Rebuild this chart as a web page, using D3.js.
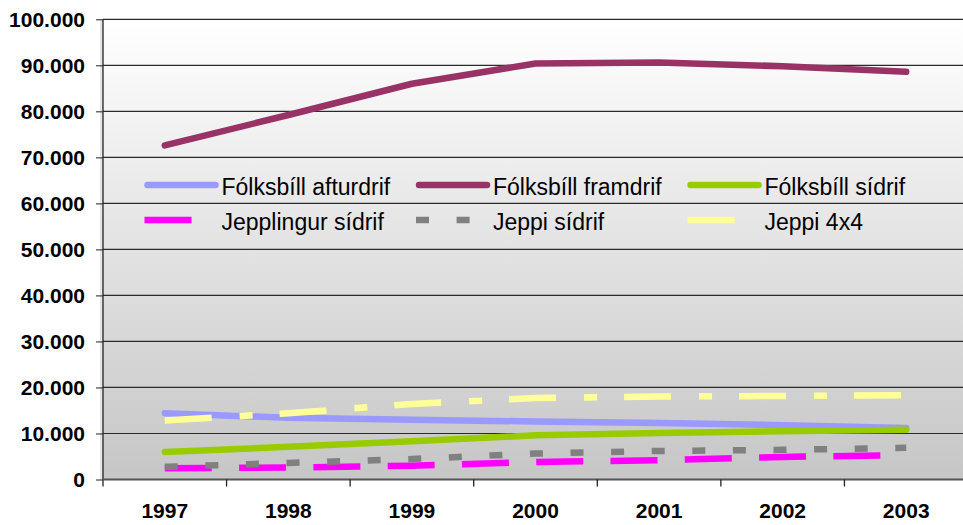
<!DOCTYPE html>
<html>
<head>
<meta charset="utf-8">
<script src="https://cdn.jsdelivr.net/npm/d3@7.9.0/dist/d3.min.js"></script>
<style>
  body { margin: 0; background: #fff; }
  svg { display: block; font-family: "Liberation Sans", Arial, sans-serif; }
</style>
</head>
<body>
<svg id="chart" width="963" height="525"></svg>
<script>
// data
const years = ['1997', '1998', '1999', '2000', '2001', '2002', '2003'];
const yTicks = [0, 10000, 20000, 30000, 40000, 50000, 60000, 70000, 80000, 90000, 100000];

const afturdrif   = [14400, 13400, 13000, 12600, 12300, 11800, 11200];
const framdrif    = [72600, 79200, 86000, 90400, 90600, 89800, 88600];
const sidrif      = [6000, 7100, 8300, 9600, 10100, 10500, 10800];
const jepplingur  = [2450, 2600, 3000, 3800, 4200, 4900, 5300];
const jeppiSidrif = [2750, 3600, 4450, 5640, 6200, 6440, 6880];
const jeppi4x4    = [12800, 14400, 16400, 17700, 18050, 18150, 18300];

const series = [
  { name: 'Fólksbíll afturdrif', values: afturdrif,   color: '#9999ff', dash: null },
  { name: 'Fólksbíll framdrif',  values: framdrif,    color: '#993366', dash: null },
  { name: 'Fólksbíll sídrif',    values: sidrif,      color: '#99cc00', dash: null },
  { name: 'Jepplingur sídrif',   values: jepplingur,  color: '#ff00ff', dash: '47,27.3' },
  { name: 'Jeppi sídrif',        values: jeppiSidrif, color: '#808080', dash: '13,27.6' },
  { name: 'Jeppi 4x4',           values: jeppi4x4,    color: '#ffff99', dash: '47,28,13,27' }
];

const svg = d3.select('#chart');
const pLeft = 103, pRight = 968, pTop = 19.3, pBottom = 479.5;

const x = d3.scaleBand().domain(years).range([pLeft, pRight]).padding(0);
const y = d3.scaleLinear().domain([0, 100000]).range([pBottom, pTop]);

// plot background gradient
const grad = svg.append('defs').append('linearGradient')
  .attr('id', 'bg').attr('x1', 0).attr('y1', 0).attr('x2', 0).attr('y2', 1);
grad.append('stop').attr('offset', '0%').attr('stop-color', '#ffffff');
grad.append('stop').attr('offset', '100%').attr('stop-color', '#c6c6c6');

// little shadow left of the plot
svg.append('rect')
  .attr('x', pLeft - 3).attr('y', pTop).attr('width', 3).attr('height', pBottom - pTop)
  .attr('fill', '#e4e4e4');

svg.append('rect')
  .attr('x', pLeft).attr('y', pTop).attr('width', pRight - pLeft).attr('height', pBottom - pTop)
  .attr('fill', 'url(#bg)');

// gridlines
svg.append('g')
  .selectAll('line')
  .data(yTicks.filter(d => d > 0))
  .join('line')
  .attr('x1', pLeft).attr('x2', pRight)
  .attr('y1', d => y(d)).attr('y2', d => y(d))
  .attr('stroke', '#2a2a2a').attr('stroke-width', 1.2);

// y axis
const fmt = d => d === 0 ? '0' : d3.format(',')(d).replace(/,/g, '.');
const yAxis = svg.append('g')
  .attr('transform', `translate(${pLeft},0)`)
  .call(d3.axisLeft(y).tickValues(yTicks).tickSize(7).tickPadding(11).tickFormat(fmt));
yAxis.select('.domain').remove();
yAxis.selectAll('.tick line').attr('stroke', '#222');
yAxis.selectAll('text')
  .attr('font-size', '21px').attr('font-weight', 'bold').attr('fill', '#000')
  .attr('font-family', '"Liberation Sans", Arial, sans-serif');

svg.append('line')
  .attr('x1', pLeft).attr('x2', pLeft).attr('y1', pTop).attr('y2', pBottom + 7)
  .attr('stroke', '#222').attr('stroke-width', 1.3);

// x axis
svg.append('line')
  .attr('x1', pLeft).attr('x2', pRight).attr('y1', pBottom).attr('y2', pBottom)
  .attr('stroke', '#555').attr('stroke-width', 2);

svg.append('g')
  .selectAll('line')
  .data(years.slice(1))
  .join('line')
  .attr('x1', d => x(d)).attr('x2', d => x(d))
  .attr('y1', pBottom).attr('y2', pBottom + 7)
  .attr('stroke', '#222').attr('stroke-width', 1.3);

svg.append('g')
  .selectAll('text')
  .data(years)
  .join('text')
  .attr('x', d => x(d) + x.bandwidth() / 2)
  .attr('y', 518)
  .attr('text-anchor', 'middle')
  .attr('font-size', '21px').attr('font-weight', 'bold')
  .text(d => d);

// lines
const line = d3.line()
  .x((d, i) => x(years[i]) + x.bandwidth() / 2)
  .y(d => y(d));

series.forEach(s => {
  svg.append('path')
    .attr('d', line(s.values))
    .attr('fill', 'none')
    .attr('stroke', s.color)
    .attr('stroke-width', 6.5)
    .attr('stroke-linejoin', 'round')
    .attr('stroke-linecap', s.dash ? 'butt' : 'round')
    .attr('stroke-dasharray', s.dash);
});

// legend, two rows of three
const legend = svg.append('g');
series.forEach((s, i) => {
  const col = i % 3, row = Math.floor(i / 3);
  const tx = 221.5 + col * 271.5;
  const ly = 185 + row * 35;
  const x0 = tx - 77, x1 = tx - 3;
  legend.append('line')
    .attr('x1', s.dash ? x0 : x0 + 3).attr('x2', s.dash ? x1 : x1 - 3)
    .attr('y1', ly).attr('y2', ly)
    .attr('stroke', s.color)
    .attr('stroke-width', 6.5)
    .attr('stroke-linecap', s.dash ? 'butt' : 'round')
    .attr('stroke-dasharray', s.dash);
  legend.append('text')
    .attr('x', tx).attr('y', ly + 10)
    .attr('font-size', '23px')
    .attr('fill', '#000')
    .text(s.name);
});
</script>
</body>
</html>
